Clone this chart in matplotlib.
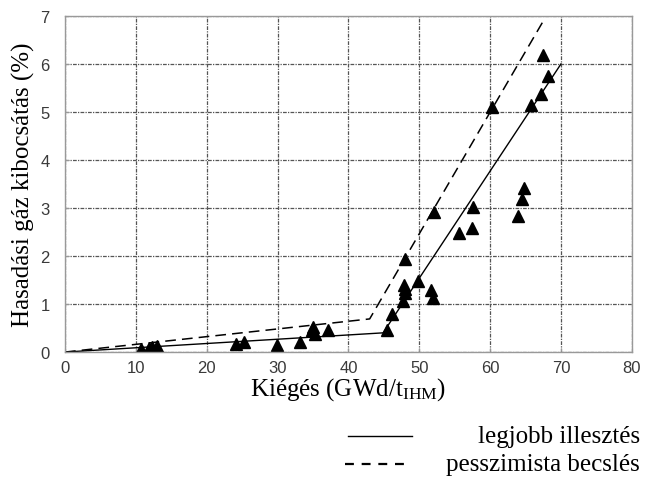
import matplotlib
matplotlib.use("Agg")
import matplotlib.pyplot as plt
from matplotlib.lines import Line2D

plt.rcParams['mathtext.fontset'] = 'custom'
plt.rcParams['mathtext.rm'] = 'Liberation Serif'
plt.rcParams['mathtext.it'] = 'Liberation Serif:italic'

# measured points (burnup GWd/tIHM, FGR %)
burnup = [10.7, 11.8, 12.3, 13.0, 24.2, 25.3, 29.9, 33.1, 35.0, 34.9, 35.3, 37.1,
          45.5, 46.1, 47.7, 48.0, 48.0, 47.9, 48.0, 49.8, 51.6, 52.0, 52.1,
          55.6, 57.5, 57.6, 60.3, 63.9, 64.5, 64.8, 65.8, 67.2, 67.4, 68.2]
release = [0.06, 0.08, 0.10, 0.12, 0.17, 0.21, 0.14, 0.21, 0.52, 0.45, 0.38, 0.45,
           0.45, 0.80, 1.06, 1.23, 1.32, 1.40, 1.94, 1.47, 1.30, 1.13, 2.92,
           2.49, 2.58, 3.02, 5.10, 2.83, 3.19, 3.42, 5.14, 5.37, 6.18, 5.76]

# best fit and pessimistic estimate (piecewise linear)
best_x = [0, 44.9, 70.0]
best_y = [0, 0.40, 6.0]
pess_x = [0, 43.0, 67.8]
pess_y = [0, 0.69, 6.97]

xticks = [0, 10, 20, 30, 40, 50, 60, 70, 80]
yticks = [0, 1, 2, 3, 4, 5, 6, 7]

fig = plt.figure(figsize=(6.5, 4.81), dpi=100)
ax = fig.add_axes([0.1, 0.266, 0.872, 0.6987])

ax.plot(best_x, best_y, color='black', lw=1.0)
ax.plot(pess_x, pess_y, color='black', lw=1.1, dashes=(7, 4))
ax.plot(burnup, release, linestyle='none', marker='^', color='black', markersize=8)

ax.set_xlim(0, 80)
ax.set_ylim(0, 7)
ax.set_xticks(xticks)
ax.set_yticks(yticks)
ax.grid(True, color='#555555', lw=0.9, linestyle=(0, (3, 1, 1, 1)))
for s in ax.spines.values():
    s.set_color('#999999')
    s.set_linewidth(1.0)
ax.tick_params(direction='in', length=3, color='#999999', labelcolor='#3a3a3a',
               labelsize=12, labelfontfamily='Liberation Sans')
ax.tick_params(axis='x', pad=6)
ax.tick_params(axis='y', pad=11)

serif = {'family': 'Liberation Serif', 'size': 18}
ax.set_xlabel('Kiégés (GWd/t$_{\\mathrm{IHM}}$)', fontdict=serif, labelpad=0)
ax.set_ylabel('Hasadási gáz kibocsátás (%)', fontdict=serif, labelpad=4)

# legend below the axes
fig.add_artist(Line2D([348 / 650, 412 / 650], [1 - 437 / 481, 1 - 437 / 481],
                      color='black', lw=1.0))
fig.add_artist(Line2D([345 / 650, 405 / 650], [1 - 465 / 481, 1 - 465 / 481],
                      color='black', lw=1.6, dashes=(4, 3.5)))
fig.text(640 / 650, 1 - 437 / 481, 'legjobb illesztés', ha='right', va='center', **serif)
fig.text(640 / 650, 1 - 465 / 481, 'pesszimista becslés', ha='right', va='center', **serif)

fig.savefig('out.png', dpi=100)
